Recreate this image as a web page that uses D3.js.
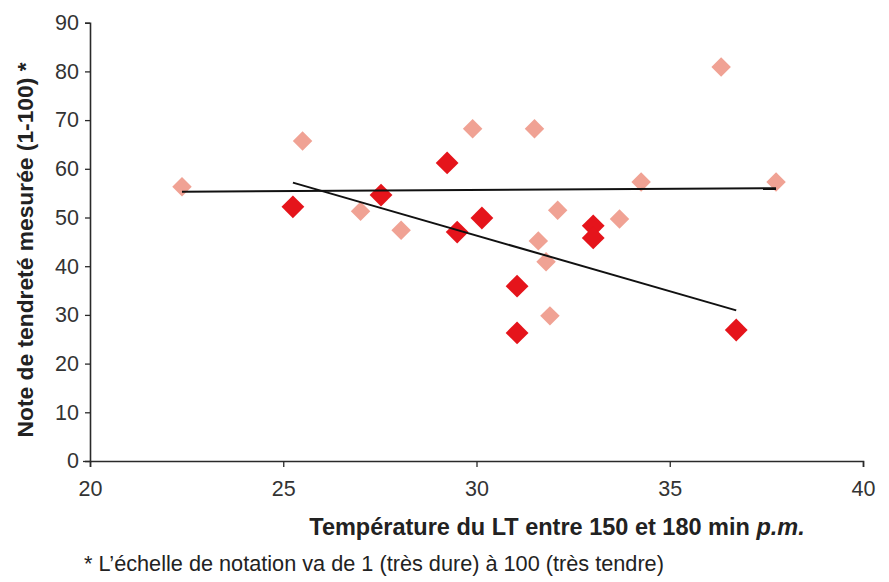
<!DOCTYPE html>
<html>
<head>
<meta charset="utf-8">
<script src="https://cdn.jsdelivr.net/npm/d3@7"></script>
<style>
  html, body { margin: 0; padding: 0; background: #fff; }
  svg { display: block; font-family: "Liberation Sans", Arial, sans-serif; }
</style>
</head>
<body>
<svg id="chart" width="889" height="582"></svg>
<script>
// ---- Data ----
const lightX = [22.38, 25.5, 27.0, 28.05, 29.9, 31.5, 31.6, 31.8, 31.9, 32.1, 33.7, 34.26, 36.33, 37.75];
const lightY = [56.3, 65.7, 51.3, 47.4, 68.2, 68.2, 45.2, 40.9, 29.8, 51.5, 49.7, 57.3, 80.9, 57.3];
const darkX  = [25.25, 27.53, 29.24, 29.5, 30.14, 31.05, 31.05, 33.02, 33.02, 36.72];
const darkY  = [52.2, 54.6, 61.2, 47.0, 49.9, 35.9, 26.3, 48.3, 45.8, 26.9];
// trend line of the light series, as drawn in the picture
const lightTrendX = [22.38, 37.75];
const lightTrendY = [55.3, 56.0];
const xTicks = [20, 25, 30, 35, 40];
const yTicks = [0, 10, 20, 30, 40, 50, 60, 70, 80, 90];

const xLabel = "Température du LT entre 150 et 180 min ";
const xLabelItalic = "p.m.";
const yLabel = "Note de tendreté mesurée (1-100) *";
const footnote = "* L’échelle de notation va de 1 (très dure) à 100 (très tendre)";

// ---- Layout ----
const svg = d3.select("#chart");
const x = d3.scaleLinear().domain([20, 40]).range([90, 863]);
const y = d3.scaleLinear().domain([0, 90]).range([461, 22.7]);
const axisColor = "#2a2a2a";
const textColor = "#333";

// axes
const gx = svg.append("g").attr("transform", `translate(0,${y(0)})`)
  .call(d3.axisBottom(x).tickValues(xTicks).tickSize(6).tickPadding(14).tickFormat(d3.format("d")));
const gy = svg.append("g").attr("transform", `translate(${x(20)},0)`)
  .call(d3.axisLeft(y).tickValues(yTicks).tickSize(5).tickPadding(6).tickFormat(d3.format("d")));
[gx, gy].forEach(g => {
  g.selectAll("path.domain").attr("stroke", axisColor).attr("stroke-width", 1.6);
  g.selectAll(".tick line").attr("stroke", axisColor).attr("stroke-width", 1.3);
  g.selectAll(".tick text").attr("fill", textColor).style("font-size", "21.5px");
});
gy.selectAll(".tick").filter(d => d === 0).select("line").attr("x1", 0).attr("x2", -7);

// markers
const diamond = (size) => d3.symbol().type(d3.symbolSquare).size(size);
const lightPts = lightX.map((v, i) => [v, lightY[i]]);
const darkPts = darkX.map((v, i) => [v, darkY[i]]);

svg.append("g").selectAll("path").data(lightPts).join("path")
  .attr("d", diamond(190)())
  .attr("transform", d => `translate(${x(d[0])},${y(d[1])}) rotate(45)`)
  .attr("fill", "#f0a294");

svg.append("g").selectAll("path").data(darkPts).join("path")
  .attr("d", diamond(260)())
  .attr("transform", d => `translate(${x(d[0])},${y(d[1])}) rotate(45)`)
  .attr("fill", "#e5141b");

// dark series linear regression
const mx = d3.mean(darkX), my = d3.mean(darkY);
const slope = d3.sum(darkX, (v, i) => (v - mx) * (darkY[i] - my)) / d3.sum(darkX, v => (v - mx) ** 2);
const ext = d3.extent(darkX);
const darkTrend = ext.map(v => [v, my + slope * (v - mx)]);
const lightTrend = lightTrendX.map((v, i) => [v, lightTrendY[i]]);

const line = d3.line().x(d => x(d[0])).y(d => y(d[1]));
svg.append("path").datum(lightTrend).attr("d", line)
  .attr("fill", "none").attr("stroke", "#111").attr("stroke-width", 2);
svg.append("path").datum(darkTrend).attr("d", line)
  .attr("fill", "none").attr("stroke", "#111").attr("stroke-width", 2);

// axis titles
const xt = svg.append("text")
  .attr("x", 557).attr("y", 535)
  .attr("text-anchor", "middle")
  .attr("fill", "#222")
  .style("font-size", "23.5px").style("font-weight", "bold");
xt.append("tspan").text(xLabel);
xt.append("tspan").style("font-style", "italic").text(xLabelItalic);

svg.append("text")
  .attr("transform", "translate(33,250) rotate(-90)")
  .attr("text-anchor", "middle")
  .attr("fill", "#222")
  .style("font-size", "22.8px").style("font-weight", "bold")
  .text(yLabel);

svg.append("text")
  .attr("x", 84).attr("y", 571)
  .attr("fill", "#222")
  .style("font-size", "21.7px")
  .text(footnote);
</script>
</body>
</html>
